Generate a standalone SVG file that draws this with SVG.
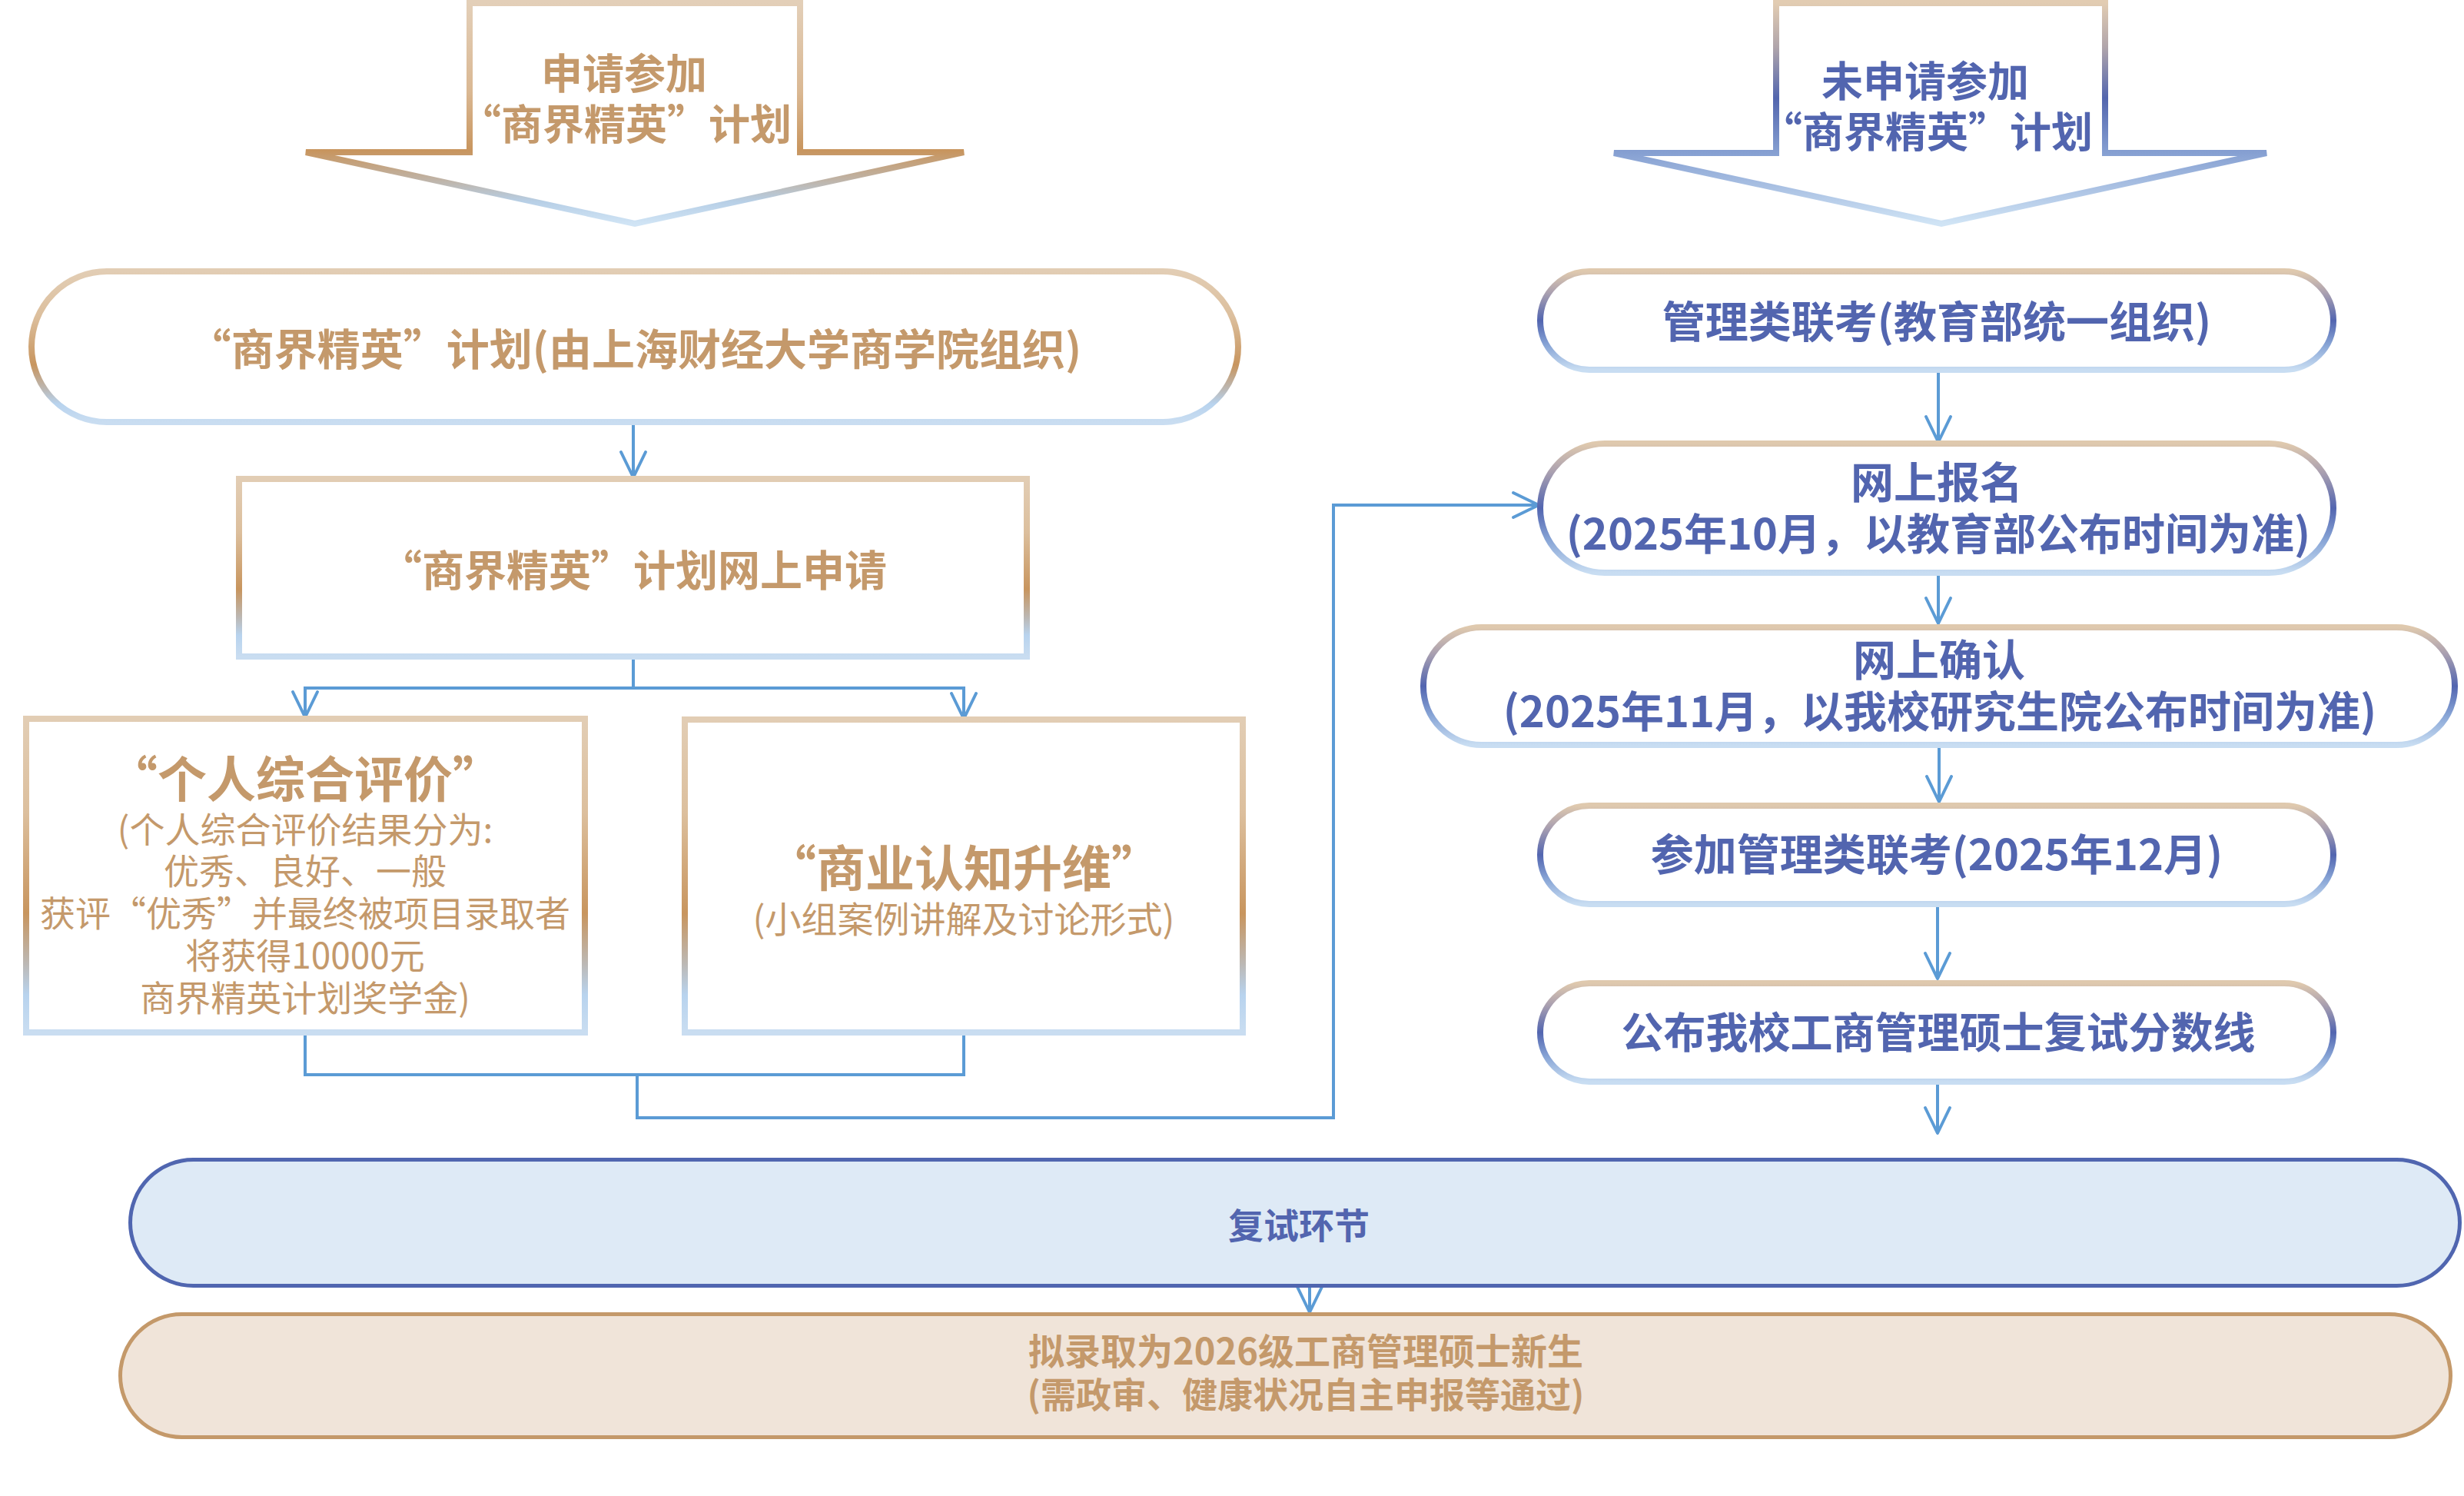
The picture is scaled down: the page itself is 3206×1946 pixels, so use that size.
<svg xmlns="http://www.w3.org/2000/svg" width="3206" height="1946" viewBox="0 0 3206 1946">
<style>
.tb{font-family:"Noto Sans CJK SC","Liberation Sans",sans-serif;font-weight:700;fill:#c4996b;text-anchor:middle;dominant-baseline:central}
.tr{font-family:"Noto Sans CJK SC","Liberation Sans",sans-serif;font-weight:400;fill:#c4996b;text-anchor:middle;dominant-baseline:central}
.bb{font-family:"Noto Sans CJK SC","Liberation Sans",sans-serif;font-weight:700;fill:#5265af;text-anchor:middle;dominant-baseline:central}
.tan{fill:#fff;stroke:url(#gTan);stroke-width:8}
.blu{fill:#fff;stroke:url(#gBlue);stroke-width:8}
.con{fill:none;stroke:#5b9bd5;stroke-width:4}
</style>
<defs>
<linearGradient id="gTanArrow" x1="0" y1="0" x2="0" y2="1">
<stop offset="0" stop-color="#e3cfb8"/><stop offset="0.4" stop-color="#dab893"/><stop offset="0.67" stop-color="#c8955e"/><stop offset="0.8" stop-color="#bfb3a6"/><stop offset="0.9" stop-color="#b7cfe6"/><stop offset="1" stop-color="#d0e4f5"/>
</linearGradient>
<linearGradient id="gBlueArrow" x1="0" y1="0" x2="0" y2="1">
<stop offset="0" stop-color="#e2ccb2"/><stop offset="0.2" stop-color="#b0a5ab"/><stop offset="0.43" stop-color="#5366ae"/><stop offset="0.68" stop-color="#86a0d2"/><stop offset="1" stop-color="#d0e4f5"/>
</linearGradient>
<linearGradient id="gTan" x1="0" y1="0" x2="0" y2="1">
<stop offset="0" stop-color="#e2cdb4"/><stop offset="0.3" stop-color="#dcbf9d"/><stop offset="0.62" stop-color="#c8955e"/><stop offset="0.78" stop-color="#bcb8b4"/><stop offset="0.88" stop-color="#b8d3ee"/><stop offset="1" stop-color="#c9ddf1"/>
</linearGradient>
<linearGradient id="gBlue" x1="0" y1="0" x2="0" y2="1">
<stop offset="0" stop-color="#dfc9ae"/><stop offset="0.22" stop-color="#aaa0b0"/><stop offset="0.5" stop-color="#5265b0"/><stop offset="0.75" stop-color="#88a5d6"/><stop offset="1" stop-color="#c8ddf2"/>
</linearGradient>
<marker id="arr" markerUnits="userSpaceOnUse" markerWidth="60" markerHeight="60" viewBox="-40 -30 60 60" refX="0" refY="0" orient="auto" overflow="visible">
<path d="M-33,-16 L0,0 L-33,16" fill="none" stroke="#5b9bd5" stroke-width="4" stroke-linejoin="round" stroke-linecap="round"/>
</marker>
</defs>
<rect width="3206" height="1946" fill="#fff"/>

<g id="arrow-apply">
<polygon points="611,4 1041,4 1041,198 1254,198 826,291 398,198 611,198" fill="#fff" stroke="url(#gTanArrow)" stroke-width="8"/>
<text class="tb" x="812" y="92" font-size="54">申请参加</text>
<text class="tb" x="814" y="158" font-size="54">“商界精英”计划</text>
</g>
<g id="arrow-noapply">
<polygon points="2311,4 2739,4 2739,199 2949,199 2526,291 2100,199 2311,199" fill="#fff" stroke="url(#gBlueArrow)" stroke-width="8"/>
<text class="bb" x="2505" y="102" font-size="54">未申请参加</text>
<text class="bb" x="2507" y="168" font-size="54">“商界精英”计划</text>
</g>

<g id="connectors">
<path class="con" d="M824,553 V621" marker-end="url(#arr)"/>
<path class="con" d="M824,858 V895 H397 V933" marker-end="url(#arr)"/>
<path class="con" d="M824,895 H1254 V935" marker-end="url(#arr)"/>
<path class="con" d="M397,1347 V1398 H1254 V1347"/>
<path class="con" d="M829,1398 V1454 H1735 V657 H2002" marker-end="url(#arr)"/>
<path class="con" d="M2522,485 V575" marker-end="url(#arr)"/>
<path class="con" d="M2522,749 V811" marker-end="url(#arr)"/>
<path class="con" d="M2523,973 V1043" marker-end="url(#arr)"/>
<path class="con" d="M2521,1180 V1273" marker-end="url(#arr)"/>
<path class="con" d="M2521,1411 V1474" marker-end="url(#arr)"/>
<path class="con" d="M1704,1675 V1707" marker-end="url(#arr)"/>
</g>

<g id="plan">
<rect class="tan" x="41" y="353" width="1570" height="196" rx="98"/>
<text class="tb" x="826" y="450" font-size="56">“商界精英”计划(由上海财经大学商学院组织)</text>
</g>
<g id="online-apply">
<rect class="tan" x="311" y="623" width="1025" height="231"/>
<text class="tb" x="824" y="738" font-size="55">“商界精英”计划网上申请</text>
</g>
<g id="personal-eval">
<rect class="tan" x="34" y="935" width="727" height="408"/>
<text class="tb" x="397" y="1009" font-size="64">“个人综合评价”</text>
<text class="tr" x="397" y="1076" font-size="46">(个人综合评价结果分为:</text>
<text class="tr" x="397" y="1130" font-size="46">优秀、良好、一般</text>
<text class="tr" x="397" y="1185" font-size="46">获评“优秀”并最终被项目录取者</text>
<text class="tr" x="397" y="1240" font-size="46">将获得10000元</text>
<text class="tr" x="397" y="1295" font-size="46">商界精英计划奖学金)</text>
</g>
<g id="business-cognition">
<rect class="tan" x="891" y="936" width="726" height="407"/>
<text class="tb" x="1254" y="1125" font-size="64">“商业认知升维”</text>
<text class="tr" x="1254" y="1192" font-size="47">(小组案例讲解及讨论形式)</text>
</g>

<g id="joint-exam">
<rect class="blu" x="2004" y="353" width="1032" height="128" rx="64"/>
<text class="bb" x="2520" y="414" font-size="56">管理类联考(教育部统一组织)</text>
</g>
<g id="online-register">
<rect class="blu" x="2004" y="577" width="1032" height="168" rx="84"/>
<text class="bb" x="2520" y="623" font-size="56">网上报名</text>
<text class="bb" x="2522" y="690" font-size="56">(2025年10月，以教育部公布时间为准)</text>
</g>
<g id="online-confirm">
<rect class="blu" x="1852" y="816" width="1342" height="153" rx="76"/>
<text class="bb" x="2523" y="854" font-size="56">网上确认</text>
<text class="bb" x="2524" y="921" font-size="56">(2025年11月，以我校研究生院公布时间为准)</text>
</g>
<g id="take-exam">
<rect class="blu" x="2004" y="1048" width="1032" height="128" rx="64"/>
<text class="bb" x="2520" y="1107" font-size="56">参加管理类联考(2025年12月)</text>
</g>
<g id="score-line">
<rect class="blu" x="2004" y="1279" width="1032" height="128" rx="64"/>
<text class="bb" x="2522" y="1339" font-size="55">公布我校工商管理硕士复试分数线</text>
</g>

<g id="interview">
<rect x="169.5" y="1508.5" width="3031" height="164" rx="82" fill="#deeaf6" stroke="#5066b0" stroke-width="5"/>
<text class="bb" x="1690" y="1591" font-size="46">复试环节</text>
</g>
<g id="admission">
<rect x="156.5" y="1709.5" width="3032" height="160" rx="80" fill="#f0e4d9" stroke="#c4996a" stroke-width="5"/>
<text class="tb" x="1699" y="1754" font-size="47">拟录取为2026级工商管理硕士新生</text>
<text class="tb" x="1699" y="1811" font-size="46">(需政审、健康状况自主申报等通过)</text>
</g>
</svg>
